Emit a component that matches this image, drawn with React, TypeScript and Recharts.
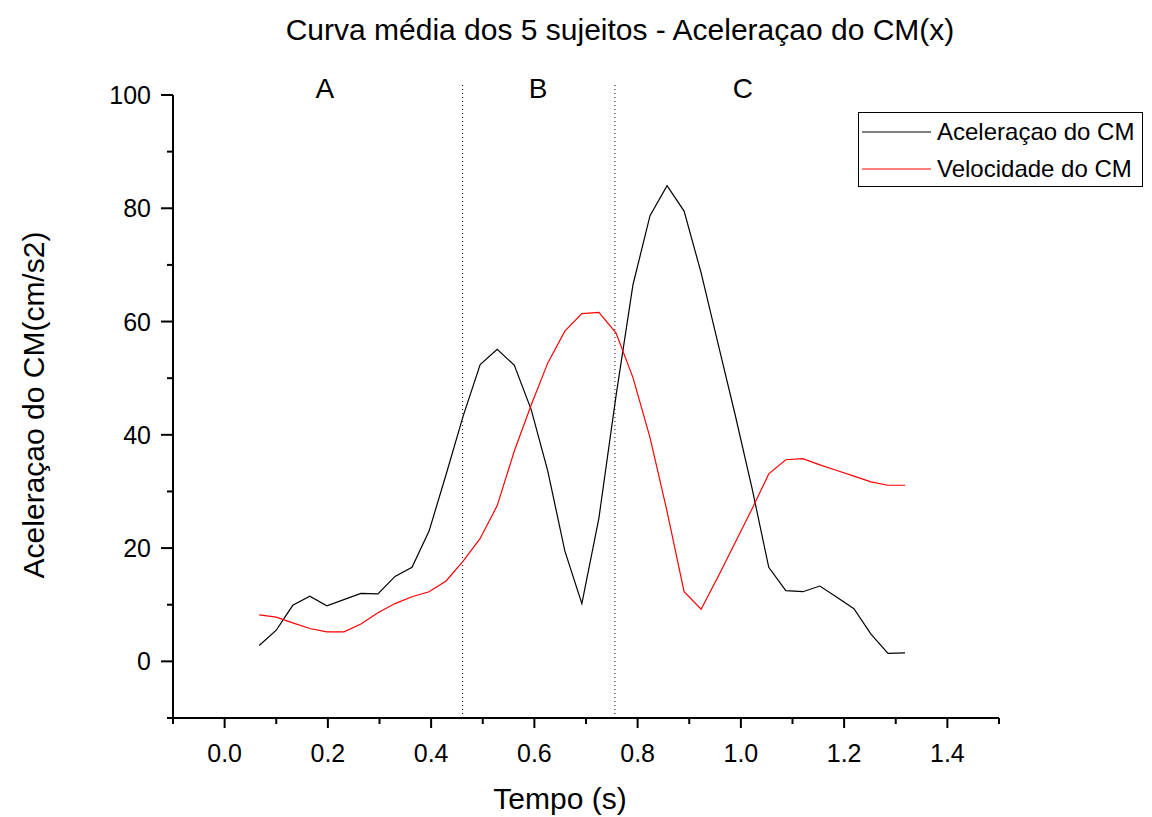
import React from 'react';
import { LineChart, Line, XAxis, YAxis, ReferenceLine, ReferenceDot, Legend } from 'recharts';

// ---- data ----
const times = [
  0.067, 0.100, 0.132, 0.165, 0.198, 0.231, 0.264, 0.297, 0.330, 0.363,
  0.396, 0.429, 0.462, 0.495, 0.528, 0.561, 0.594, 0.626, 0.659, 0.692,
  0.725, 0.758, 0.791, 0.824, 0.857, 0.890, 0.923, 0.956, 0.989, 1.022,
  1.054, 1.087, 1.120, 1.153, 1.186, 1.219, 1.252, 1.285, 1.318,
];
const acceleration = [
  2.8, 5.5, 9.9, 11.5, 9.8, 10.9, 12.0, 11.9, 15.0, 16.6,
  23.0, 33.0, 43.3, 52.4, 55.1, 52.3, 44.4, 33.6, 19.5, 10.2,
  25.3, 46.8, 66.5, 78.7, 84.0, 79.5, 68.6, 56.0, 43.5, 30.4,
  16.6, 12.5, 12.3, 13.3, 11.3, 9.3, 4.8, 1.4, 1.5,
];
const velocity = [
  8.2, 7.8, 6.8, 5.8, 5.2, 5.2, 6.6, 8.6, 10.2, 11.4,
  12.3, 14.2, 17.7, 21.7, 27.5, 37.1, 45.3, 52.7, 58.3, 61.4,
  61.6, 58.0, 50.1, 39.5, 26.5, 12.3, 9.2, 15.0, 21.0, 27.0,
  33.1, 35.6, 35.8, 34.7, 33.7, 32.7, 31.7, 31.1, 31.1,
];
const seriesNames = ['Aceleraçao do CM', 'Velocidade do CM'];
const seriesColors = ['#000000', '#ff0000'];
const xTicks = [-0.1, 0, 0.1, 0.2, 0.3, 0.4, 0.5, 0.6, 0.7, 0.8, 0.9, 1.0, 1.1, 1.2, 1.3, 1.4, 1.5];
const yTicks = [-10, 0, 10, 20, 30, 40, 50, 60, 70, 80, 90, 100];
const phaseBoundaries = [0.461, 0.756];
const phaseLabels = ['A', 'B', 'C'];
const phaseLabelX = [0.194, 0.607, 1.004];
const phaseLabelY = 101.3;
const boundaryTop = 101.8;

const title = 'Curva média dos 5 sujeitos - Aceleraçao do CM(x)';
const xLabel = 'Tempo (s)';
const yLabel = 'Aceleraçao do CM(cm/s2)';

const data = times.map((t, i) => ({ t, acc: acceleration[i], vel: velocity[i] }));

const FONT = "'Liberation Sans', Arial, sans-serif";

const XTick = (props: any) => {
  const { x, y, payload } = props;
  const v = payload.value as number;
  const major = Math.round(v * 10) % 2 === 0;
  return (
    <g>
      <line x1={x} x2={x} y1={y} y2={y + (major ? 10 : 6)} stroke="#000" strokeWidth={2} />
      {major && (
        <text x={x} y={y + 35} textAnchor="middle" dominantBaseline="central" fontSize={25} fontFamily={FONT} fill="#000">
          {v.toFixed(1)}
        </text>
      )}
    </g>
  );
};

const YTick = (props: any) => {
  const { x, y, payload } = props;
  const v = payload.value as number;
  const major = v >= 0 && v % 20 === 0;
  return (
    <g>
      <line x1={x} x2={x - (major ? 12 : 6)} y1={y} y2={y} stroke="#000" strokeWidth={2} />
      {major && (
        <text x={x - 22} y={y} textAnchor="end" dominantBaseline="central" fontSize={25} fontFamily={FONT} fill="#000">
          {String(v)}
        </text>
      )}
    </g>
  );
};

const LegendBox = (props: any) => {
  const payload = (props && props.payload && props.payload.length ? props.payload : seriesNames.map((n, i) => ({ value: n, color: seriesColors[i] })));
  return (
    <div style={{ width: 285, height: 75, border: '1px solid #000', boxSizing: 'border-box', background: '#fff', fontFamily: FONT }}>
      {payload.map((p: any, i: number) => (
        <div key={i} style={{ height: 37, display: 'flex', alignItems: 'center' }}>
          <svg width={78} height={10} style={{ flex: 'none' }}>
            <line x1={3} x2={72} y1={5} y2={5} stroke={p.color} strokeWidth={1.2} />
          </svg>
          <span style={{ fontSize: 24, color: '#000', whiteSpace: 'nowrap', lineHeight: '37px' }}>{p.value}</span>
        </div>
      ))}
    </div>
  );
};

export default function App() {
  return (
    <div style={{ position: 'absolute', left: 0, top: 0, width: 1152, height: 817, background: '#fff', fontFamily: FONT }}>
      <div style={{ position: 'absolute', left: 0, top: 12, width: 1240, textAlign: 'center', fontSize: 30, lineHeight: '36px', color: '#000', fontFamily: FONT }}>
        {title}
      </div>
      <LineChart
        width={1152}
        height={817}
        data={data}
        margin={{ top: 95, right: 153, left: 100, bottom: 39 }}
      >
        <XAxis
          type="number"
          dataKey="t"
          domain={[-0.1, 1.5]}
          ticks={xTicks}
          interval={0}
          allowDataOverflow
          tickSize={0}
          tickMargin={0}
          tickLine={false}
          axisLine={{ stroke: '#000', strokeWidth: 2 }}
          tick={(p: any) => <XTick {...p} />}
          height={60}
          label={(lp: any) => (
            <text x={560} y={798} textAnchor="middle" dominantBaseline="central" fontSize={30} fontFamily={FONT} fill="#000">
              {xLabel}
            </text>
          )}
        />
        <YAxis
          type="number"
          domain={[-10, 100]}
          ticks={yTicks}
          interval={0}
          allowDataOverflow
          tickSize={0}
          tickMargin={0}
          tickLine={false}
          axisLine={{ stroke: '#000', strokeWidth: 2 }}
          tick={(p: any) => <YTick {...p} />}
          width={73}
          label={(lp: any) => (
            <text x={33} y={405} transform="rotate(-90 33 405)" textAnchor="middle" dominantBaseline="central" fontSize={30} fontFamily={FONT} fill="#000">
              {yLabel}
            </text>
          )}
        />
        {phaseBoundaries.map((b, i) => (
          <ReferenceLine
            key={'b' + i}
            segment={[{ x: b, y: -10 }, { x: b, y: boundaryTop }]}
            ifOverflow="visible"
            stroke="#000"
            strokeWidth={1}
            strokeDasharray="1 3"
          />
        ))}
        {phaseLabels.map((l, i) => (
          <ReferenceDot
            key={'l' + i}
            x={phaseLabelX[i]}
            y={phaseLabelY}
            r={0}
            fill="none"
            stroke="none"
            ifOverflow="visible"
            label={{ value: l, position: 'center', fontSize: 28, fill: '#000', fontFamily: FONT }}
          />
        ))}
        <Line
          type="linear"
          dataKey="acc"
          name={seriesNames[0]}
          stroke={seriesColors[0]}
          strokeWidth={1.2}
          dot={false}
          isAnimationActive={false}
        />
        <Line
          type="linear"
          dataKey="vel"
          name={seriesNames[1]}
          stroke={seriesColors[1]}
          strokeWidth={1.2}
          dot={false}
          isAnimationActive={false}
        />
        <Legend
          layout="horizontal"
          verticalAlign="middle"
          align="center"
          wrapperStyle={{ left: 858, top: 112, width: 285, height: 75 }}
          content={(p: any) => <LegendBox {...p} />}
        />
      </LineChart>
    </div>
  );
}
